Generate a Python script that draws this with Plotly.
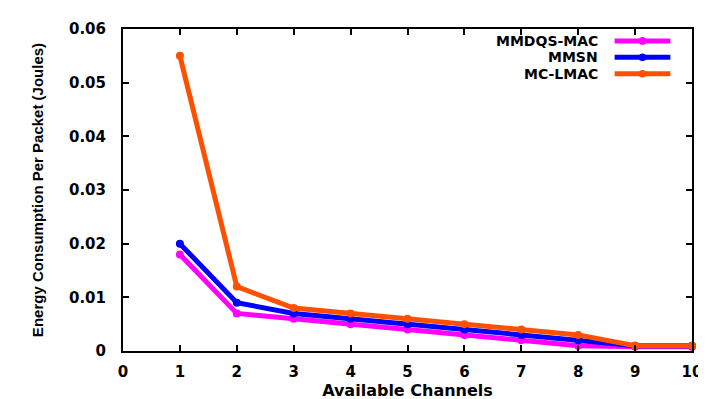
import plotly.graph_objects as go

channels = [1, 2, 3, 4, 5, 6, 7, 8, 9, 10]
mmdqs = [0.018, 0.007, 0.006, 0.005, 0.004, 0.003, 0.002, 0.001, 0.0008, 0.0008]
mmsn = [0.020, 0.009, 0.007, 0.006, 0.005, 0.004, 0.003, 0.002, 0.001, 0.001]
mclmac = [0.055, 0.012, 0.008, 0.007, 0.006, 0.005, 0.004, 0.003, 0.001, 0.001]
series_names = ["MMDQS-MAC", "MMSN", "MC-LMAC"]
colors = ["#ff00ff", "#0000ff", "#ff5000"]
x_ticks = [0, 1, 2, 3, 4, 5, 6, 7, 8, 9, 10]
y_ticks = [0, 0.01, 0.02, 0.03, 0.04, 0.05, 0.06]
y_tick_text = ["0", "0.01", "0.02", "0.03", "0.04", "0.05", "0.06"]

FONT = "DejaVu Sans, sans-serif"
FONT_Y = "Liberation Sans, Arial, sans-serif"

fig = go.Figure()
for name, vals, col in zip(series_names, [mmdqs, mmsn, mclmac], colors):
    fig.add_trace(go.Scatter(
        x=channels, y=vals, name=name, mode="lines+markers",
        line=dict(color=col, width=5),
        marker=dict(color=col, size=8, symbol="circle"),
        showlegend=False, cliponaxis=False,
    ))

# manual legend (text left of sample, as in gnuplot)
leg_y = [0.963, 0.912, 0.861]
for name, col, yy in zip(series_names, colors, leg_y):
    fig.add_annotation(x=0.838, y=yy, xref="paper", yref="paper", text="<b>%s</b>" % name,
                       showarrow=False, xanchor="right", yanchor="middle",
                       font=dict(family=FONT, size=14, color="black"))
    fig.add_shape(type="line", xref="paper", yref="paper", x0=0.864, x1=0.962, y0=yy, y1=yy,
                  line=dict(color=col, width=5))
    fig.add_shape(type="circle", xref="paper", yref="paper", x0=0.9065, x1=0.9195,
                  y0=yy - 0.012, y1=yy + 0.012, fillcolor=col, line=dict(color=col, width=0))

axis_common = dict(
    showline=True, linecolor="black", linewidth=2, mirror="ticks",
    ticks="inside", ticklen=6, tickwidth=1.5, tickcolor="black",
    showgrid=False, zeroline=False,
    tickfont=dict(family=FONT, size=15, color="black"),
)

fig.update_xaxes(range=[0, 10], tickvals=x_ticks, ticktext=["<b>%d</b>" % t for t in x_ticks],
                 title=dict(text="<b>Available Channels</b>", font=dict(family=FONT, size=16, color="black"), standoff=3),
                 ticklabelstandoff=6, **axis_common)
fig.update_yaxes(range=[0, 0.06], tickvals=y_ticks, ticktext=["<b>%s</b>" % t for t in y_tick_text],
                 title=dict(text="<b>Energy Consumption Per Packet (Joules)</b>", font=dict(family=FONT_Y, size=15, color="black"), standoff=22),
                 ticklabelstandoff=12, **axis_common)

fig.update_layout(
    width=706, height=399,
    margin=dict(l=115, r=16, t=17, b=50),
    paper_bgcolor="white", plot_bgcolor="white",
)

fig.write_html("out.html")
